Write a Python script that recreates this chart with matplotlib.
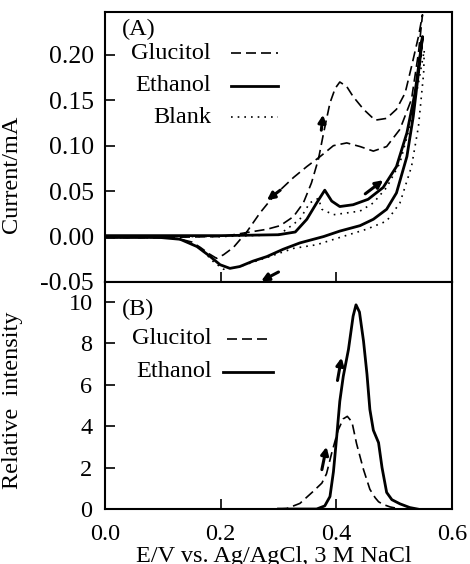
import matplotlib
matplotlib.use('Agg')
import matplotlib.pyplot as plt
from matplotlib.ticker import FormatStrFormatter

plt.rcParams['font.family'] = ['Liberation Serif', 'DejaVu Serif']
plt.rcParams['font.size'] = 17.5

# (A) cyclic voltammograms, forward then reverse scan (E/V, current/mA)
glu_cv_e = [0.0, 0.10, 0.20, 0.222, 0.251, 0.280, 0.303, 0.326, 0.343, 0.357, 0.369, 0.378,
            0.389, 0.398, 0.406, 0.418, 0.429, 0.447, 0.467, 0.487, 0.504, 0.519, 0.530, 0.542,
            0.549, 0.542, 0.530, 0.510, 0.487, 0.464, 0.441, 0.418, 0.395, 0.372, 0.349, 0.326,
            0.291, 0.268, 0.245, 0.222, 0.205, 0.193, 0.180, 0.165, 0.150, 0.125, 0.08, 0.0]
glu_cv_i = [-0.001, -0.001, 0.000, 0.002, 0.005, 0.008, 0.012, 0.022, 0.037, 0.059, 0.085, 0.114,
            0.147, 0.163, 0.170, 0.165, 0.154, 0.140, 0.128, 0.130, 0.140, 0.158, 0.187, 0.220,
            0.244, 0.202, 0.151, 0.118, 0.099, 0.094, 0.099, 0.103, 0.100, 0.088, 0.077, 0.065,
            0.044, 0.026, 0.005, -0.012, -0.020, -0.024, -0.019, -0.012, -0.006, -0.002, -0.001, -0.001]

eth_cv_e = [0.0, 0.10, 0.20, 0.30, 0.329, 0.349, 0.366, 0.380, 0.392, 0.406, 0.429, 0.455,
            0.481, 0.504, 0.522, 0.536, 0.546, 0.549, 0.542, 0.533, 0.522, 0.504, 0.487, 0.464,
            0.441, 0.406, 0.378, 0.337, 0.308, 0.280, 0.256, 0.233, 0.216, 0.199, 0.182, 0.159,
            0.130, 0.095, 0.0]
eth_cv_i = [0.001, 0.001, 0.001, 0.002, 0.005, 0.019, 0.037, 0.051, 0.039, 0.033, 0.035, 0.041,
            0.054, 0.077, 0.114, 0.158, 0.205, 0.220, 0.180, 0.132, 0.088, 0.048, 0.030, 0.019,
            0.012, 0.006, 0.000, -0.007, -0.014, -0.022, -0.027, -0.033, -0.035, -0.031, -0.022, -0.011,
            -0.003, -0.001, -0.001]

blank_cv_e = [0.0, 0.20, 0.30, 0.314, 0.337, 0.354, 0.369, 0.375, 0.395, 0.441, 0.464, 0.487,
              0.510, 0.527, 0.542, 0.552, 0.551, 0.542, 0.530, 0.510, 0.487, 0.452, 0.406, 0.366,
              0.326, 0.280, 0.233, 0.205, 0.188, 0.165, 0.136, 0.10, 0.0]
blank_cv_i = [0.000, 0.000, 0.002, 0.008, 0.019, 0.037, 0.042, 0.030, 0.024, 0.028, 0.037, 0.054,
              0.081, 0.121, 0.169, 0.205, 0.180, 0.121, 0.077, 0.037, 0.017, 0.008, -0.001, -0.009,
              -0.013, -0.023, -0.033, -0.036, -0.028, -0.013, -0.004, -0.001, -0.001]

# (B) relative intensity vs potential
glu_int_e = [0.30, 0.314, 0.337, 0.360, 0.375, 0.383, 0.392, 0.403, 0.412, 0.419, 0.427, 0.435,
             0.447, 0.458, 0.467, 0.473, 0.481, 0.493, 0.51]
glu_int = [0.0, 0.02, 0.27, 0.85, 1.25, 1.7, 2.7, 3.8, 4.35, 4.47, 4.2, 3.15,
           1.9, 0.95, 0.55, 0.35, 0.22, 0.10, 0.0]

eth_int_e = [0.30, 0.366, 0.380, 0.389, 0.395, 0.401, 0.406, 0.412, 0.421, 0.429, 0.434, 0.440,
             0.447, 0.453, 0.458, 0.464, 0.473, 0.479, 0.487, 0.496, 0.510, 0.527, 0.54]
eth_int = [0.0, 0.0, 0.15, 0.6, 1.8, 3.6, 5.2, 6.4, 7.7, 9.3, 9.85, 9.5,
           8.1, 6.5, 4.8, 3.8, 3.2, 2.0, 0.8, 0.45, 0.25, 0.07, 0.0]

# scan direction arrows (tail, head) in data units
arrows_a = [((0.374, 0.117), (0.377, 0.134)),
            ((0.303, 0.051), (0.280, 0.040)),
            ((0.450, 0.047), (0.481, 0.062)),
            ((0.300, -0.039), (0.270, -0.049))]
arrows_b = [((0.402, 6.2), (0.409, 7.3)),
            ((0.375, 1.9), (0.383, 3.0))]

dash = (0, (6, 3))
dot = (0, (1, 3))

fig = plt.figure(figsize=(4.7, 5.64), dpi=100)
ax1 = fig.add_axes([0.2234, 0.5, 0.7383, 0.4787])
ax2 = fig.add_axes([0.2234, 0.0975, 0.7383, 0.4025])

ax1.plot(glu_cv_e, glu_cv_i, color='k', lw=1.2, ls=dash)
ax1.plot(eth_cv_e, eth_cv_i, color='k', lw=2.0)
ax1.plot(blank_cv_e, blank_cv_i, color='k', lw=1.2, ls=dot)

ax2.plot(glu_int_e, glu_int, color='k', lw=1.2, ls=dash)
ax2.plot(eth_int_e, eth_int, color='k', lw=2.0)

for ax, arrows in ((ax1, arrows_a), (ax2, arrows_b)):
    for tail, head in arrows:
        ax.annotate('', xy=head, xytext=tail,
                    arrowprops=dict(arrowstyle='-|>', color='k', lw=2.2,
                                    mutation_scale=11, shrinkA=0, shrinkB=0))

for ax in (ax1, ax2):
    ax.set_xlim(0, 0.6)
    ax.set_xticks([0.0, 0.2, 0.4, 0.6])
    ax.tick_params(direction='in', length=7, width=1.2, pad=9)
    for s in ax.spines.values():
        s.set_linewidth(1.5)

ax1.set_ylim(-0.05, 0.247)
ax1.set_yticks([-0.05, 0.0, 0.05, 0.10, 0.15, 0.20])
ax1.yaxis.set_major_formatter(FormatStrFormatter('%.2f'))
ax1.tick_params(labelbottom=False)
ax1.tick_params(axis='y', labelsize=18.5, pad=8)
ax1.set_ylabel('Current/mA')
ax1.yaxis.set_label_coords(-0.239, 0.40)

ax2.set_ylim(0, 10.95)
ax2.set_yticks([0, 2, 4, 6, 8, 10])
ax2.xaxis.set_major_formatter(FormatStrFormatter('%.1f'))
ax2.tick_params(axis='x', pad=11)
ax2.set_ylabel('Relative  intensity')
ax2.yaxis.set_label_coords(-0.236, 0.48)

fig.text(0.583, 0.003, 'E/V vs. Ag/AgCl, 3 M NaCl', ha='center', va='baseline')

# hand-placed legends
ax1.text(0.049, 0.937, '(A)', transform=ax1.transAxes, ha='left', va='center')
leg_a = [('Glucitol', 0.848, dash, 1.2), ('Ethanol', 0.726, '-', 2.0), ('Blank', 0.611, dot, 1.2)]
for name, yy, ls, lw in leg_a:
    ax1.text(0.305, yy, name, transform=ax1.transAxes, ha='right', va='center')
    ax1.plot([0.362, 0.498], [yy, yy], transform=ax1.transAxes, color='k', ls=ls, lw=lw)

ax2.text(0.049, 0.877, '(B)', transform=ax2.transAxes, ha='left', va='center')
leg_b = [('Glucitol', 0.749, dash, 1.2, 0.352, 0.476), ('Ethanol', 0.604, '-', 2.0, 0.340, 0.484)]
for name, yy, ls, lw, x0, x1 in leg_b:
    ax2.text(0.308, yy, name, transform=ax2.transAxes, ha='right', va='center')
    ax2.plot([x0, x1], [yy, yy], transform=ax2.transAxes, color='k', ls=ls, lw=lw)

fig.savefig('out.png', dpi=100)
